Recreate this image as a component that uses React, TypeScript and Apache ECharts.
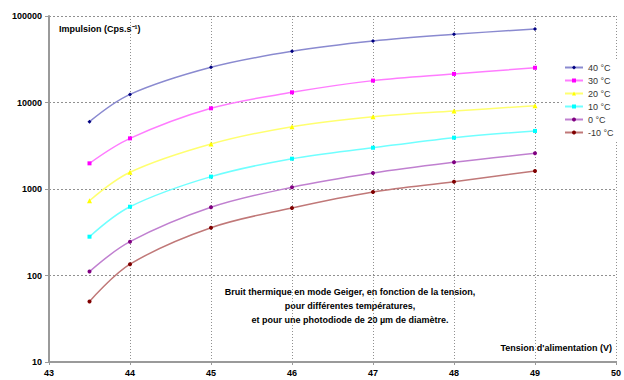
import React, { useEffect, useRef } from "react";
import * as echarts from "echarts";

const voltages = [43.5, 44, 45, 46, 47, 48, 49];
const seriesNames = ["40 °C", "30 °C", "20 °C", "10 °C", "0 °C", "-10 °C"];
const t40 = [6000, 12400, 25500, 39100, 51400, 61400, 70800];
const t30 = [1980, 3850, 8570, 13100, 17900, 21400, 25200];
const t20 = [732, 1560, 3310, 5250, 6850, 7980, 9180];
const t10 = [281, 624, 1390, 2240, 3000, 3920, 4690];
const t0 = [111, 246, 614, 1047, 1530, 2035, 2590];
const tm10 = [50, 135, 357, 603, 923, 1214, 1614];
const yTitle = "Impulsion (Cps.s\u207B\u00B9)";
const xTitle = "Tension d'alimentation (V)";
const note = [
  "Bruit thermique en mode Geiger, en fonction de la tension,",
  "pour différentes températures,",
  "et pour une photodiode de 20 µm de diamètre.",
];

const allValues = [t40, t30, t20, t10, t0, tm10];
const lineColors = ["#8a8ad0", "#ff7cff", "#ffff70", "#70ffff", "#c080d0", "#c07878"];
const markColors = ["#000080", "#ff00ff", "#ffff00", "#00ffff", "#800080", "#800000"];
const symbols = ["diamond", "rect", "triangle", "rect", "circle", "circle"];

const FONT = "Liberation Sans";

export default function App() {
  const ref = useRef<HTMLDivElement>(null);
  useEffect(() => {
    if (!ref.current) return;
    const chart = echarts.init(ref.current, undefined, { renderer: "svg" });
    chart.setOption({
      animation: false,
      backgroundColor: "#ffffff",
      grid: { left: 49, right: 4, top: 16, bottom: 18, containLabel: false },
      xAxis: {
        type: "value",
        min: 43,
        max: 50,
        interval: 1,
        axisLine: { show: true, lineStyle: { color: "#9a9a9a", width: 2 } },
        axisTick: { show: true, length: 3, lineStyle: { color: "#9a9a9a" } },
        axisLabel: { color: "#000", fontFamily: FONT, fontSize: 9, fontWeight: "bold", margin: 6 },
        splitLine: { show: true, lineStyle: { color: "#909090", type: [1, 2], width: 1 } },
      },
      yAxis: {
        type: "log",
        logBase: 10,
        min: 10,
        max: 100000,
        axisLine: { show: true, lineStyle: { color: "#9a9a9a", width: 2 } },
        axisTick: { show: true, length: 4, lineStyle: { color: "#9a9a9a" } },
        axisLabel: {
          color: "#000",
          fontFamily: FONT,
          fontSize: 9,
          fontWeight: "bold",
          margin: 7,
          formatter: (v: number) => String(Math.round(v)),
        },
        splitLine: { show: true, lineStyle: { color: "#909090", type: [2, 2], width: 1 } },
        minorTick: { show: false },
      },
      legend: {
        orient: "vertical",
        left: 562,
        top: 60,
        itemWidth: 18,
        itemHeight: 5,
        itemGap: 2,
        padding: [2, 4, 2, 2],
        backgroundColor: "#ffffff",
        textStyle: { fontFamily: FONT, fontSize: 9, color: "#333", lineHeight: 11 },
        data: seriesNames,
      },
      series: seriesNames.map((name, i) => ({
        name,
        type: "line",
        smooth: 0.35,
        data: voltages.map((v, j) => [v, allValues[i][j]]),
        symbol: symbols[i],
        symbolSize: i === 2 ? 5 : 4,
        lineStyle: { color: lineColors[i], width: 1.5 },
        itemStyle: { color: markColors[i] },
        z: 3,
      })),
      graphic: [
        {
          type: "text",
          left: 59,
          top: 24,
          style: { text: yTitle, fontFamily: FONT, fontSize: 9, fontWeight: "bold", fill: "#000" },
        },
        {
          type: "text",
          right: 12,
          top: 343,
          style: { text: xTitle, fontFamily: FONT, fontSize: 9, fontWeight: "bold", fill: "#000" },
        },
        {
          type: "text",
          x: 350,
          y: 285,
          style: {
            text: note.join("\n"),
            align: "center",
            lineHeight: 14,
            fontFamily: FONT,
            fontSize: 9,
            fontWeight: "bold",
            fill: "#000",
          },
        },
      ],
    });
    return () => chart.dispose();
  }, []);
  return (
    <div
      ref={ref}
      style={{ position: "absolute", left: 0, top: 0, width: 624, height: 380 }}
    />
  );
}
